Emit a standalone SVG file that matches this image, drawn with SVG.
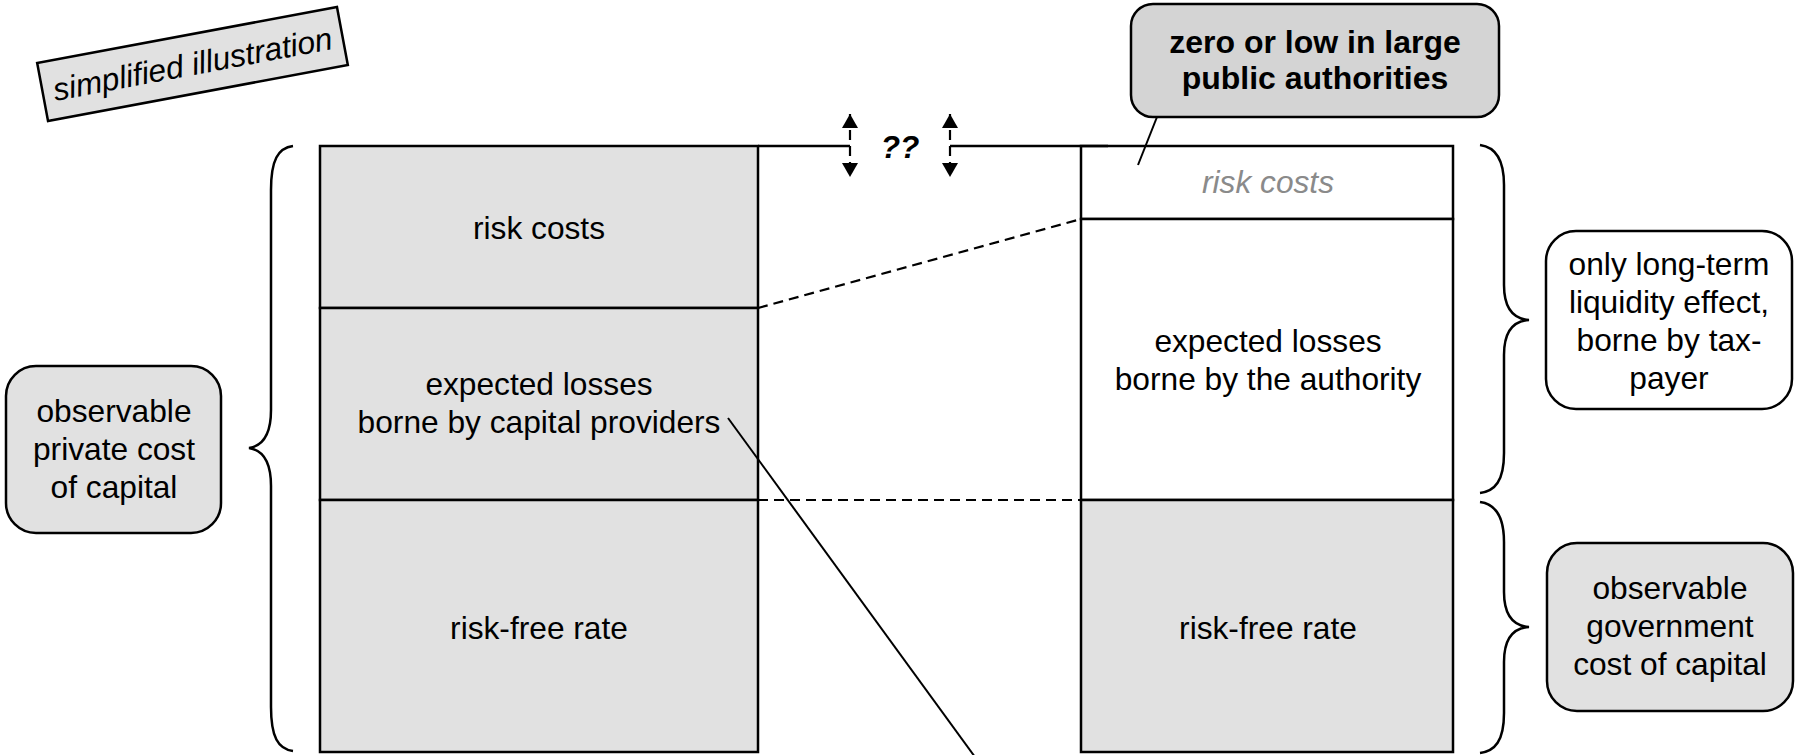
<svg xmlns="http://www.w3.org/2000/svg" width="1798" height="755" viewBox="0 0 1798 755">
  <style>
    text { font-family: "Liberation Sans", Arial, sans-serif; font-size: 31.7px; fill: #000; text-anchor: middle; }
    .cell { stroke: #000; stroke-width: 2.5; }
    .grey { fill: #e1e1e1; }
    .white { fill: #fff; }
    .box { stroke: #000; stroke-width: 2.5; }
    .brace { fill: none; stroke: #000; stroke-width: 2.5; }
    .line { stroke: #000; stroke-width: 2.5; fill: none; }
    .thin { stroke: #000; stroke-width: 2; fill: none; }
    .dash { stroke: #000; stroke-width: 2.2; fill: none; stroke-dasharray: 10 6; }
    .bold { font-weight: bold; font-size: 32px; }
    .faint { font-style: italic; fill: #8a8a8a; }
  </style>
  <defs>
    <marker id="head" viewBox="0 0 14 16" markerUnits="userSpaceOnUse" markerWidth="14" markerHeight="16" refX="14" refY="8" orient="auto-start-reverse">
      <path d="M0 0 L14 8 L0 16 z" fill="#000"/>
    </marker>
  </defs>

  <rect width="1798" height="755" fill="#fff"/>

  <!-- tilted tag -->
  <g id="tag" transform="translate(192.5,64) rotate(-10.6)">
    <rect x="-152.5" y="-29.5" width="305" height="59" class="grey box"/>
    <text x="0" y="11" font-style="italic">simplified illustration</text>
  </g>

  <!-- private cost column -->
  <g id="private-risk">
    <rect x="320" y="146" width="438" height="162" class="grey cell"/>
    <text x="539" y="239">risk costs</text>
  </g>
  <g id="private-losses">
    <rect x="320" y="308" width="438" height="192" class="grey cell"/>
    <text x="539" y="395">expected losses</text>
    <text x="539" y="433">borne by capital providers</text>
  </g>
  <g id="private-riskfree">
    <rect x="320" y="500" width="438" height="252" class="grey cell"/>
    <text x="539" y="639">risk-free rate</text>
  </g>

  <!-- government cost column -->
  <g id="public-risk">
    <rect x="1081" y="146" width="372" height="73" class="white cell"/>
    <text x="1268" y="193" class="faint">risk costs</text>
  </g>
  <g id="public-losses">
    <rect x="1081" y="219" width="372" height="281" class="white cell"/>
    <text x="1268" y="352">expected losses</text>
    <text x="1268" y="390">borne by the authority</text>
  </g>
  <g id="public-riskfree">
    <rect x="1081" y="500" width="372" height="252" class="grey cell"/>
    <text x="1268" y="639">risk-free rate</text>
  </g>

  <!-- labels -->
  <g id="private-label">
    <rect x="6" y="366" width="215" height="167" rx="30" ry="30" class="grey box"/>
    <text x="114" y="422">observable</text>
    <text x="114" y="460">private cost</text>
    <text x="114" y="498">of capital</text>
  </g>
  <g id="liquidity-label">
    <rect x="1546" y="231" width="246" height="178" rx="30" ry="30" class="white box"/>
    <text x="1669" y="275">only long-term</text>
    <text x="1669" y="313">liquidity effect,</text>
    <text x="1669" y="351">borne by tax-</text>
    <text x="1669" y="389">payer</text>
  </g>
  <g id="government-label">
    <rect x="1547" y="543" width="246" height="168" rx="30" ry="30" class="grey box"/>
    <text x="1670" y="599">observable</text>
    <text x="1670" y="637">government</text>
    <text x="1670" y="675">cost of capital</text>
  </g>
  <g id="callout">
    <rect x="1131" y="4" width="368" height="113" rx="22" ry="22" fill="#d4d4d4" class="box"/>
    <text x="1315" y="53" class="bold">zero or low in large</text>
    <text x="1315" y="89" class="bold">public authorities</text>
  </g>
  <g id="gap-mark">
    <text x="900" y="158" font-weight="bold" font-style="italic" font-size="29">??</text>
  </g>

  <!-- braces -->
  <g id="braces">
    <path class="brace" d="M293 146 C278 148 271 160 271 190 L271 410 C271 435 262 446 249 448 C262 450 271 461 271 486 L271 707 C271 737 278 749 293 751"/>
    <path class="brace" d="M1480 145 C1495 147 1504 159 1504 185 L1504 285 C1504 309 1514 319 1529 320 C1514 321 1504 331 1504 355 L1504 453 C1504 481 1495 491 1480 493"/>
    <path class="brace" d="M1480 502 C1495 504 1504 516 1504 542 L1504 592 C1504 616 1514 626 1529 627 C1514 628 1504 638 1504 662 L1504 713 C1504 741 1495 751 1480 753"/>
  </g>

  <!-- connectors -->
  <g id="connectors">
    <line class="line" x1="758" y1="146" x2="850" y2="146"/>
    <line class="line" x1="950" y1="146" x2="1108" y2="146"/>
    <line class="dash" x1="850" y1="114" x2="850" y2="177" stroke-dasharray="9 5" marker-start="url(#head)" marker-end="url(#head)"/>
    <line class="dash" x1="950" y1="114" x2="950" y2="177" stroke-dasharray="9 5" marker-start="url(#head)" marker-end="url(#head)"/>
    <line class="dash" x1="758" y1="308" x2="1081" y2="219"/>
    <line class="dash" x1="758" y1="500" x2="1081" y2="500"/>
    <line class="thin" x1="728" y1="418" x2="975" y2="757"/>
    <line class="thin" x1="1157" y1="117" x2="1138" y2="165"/>
  </g>
</svg>
